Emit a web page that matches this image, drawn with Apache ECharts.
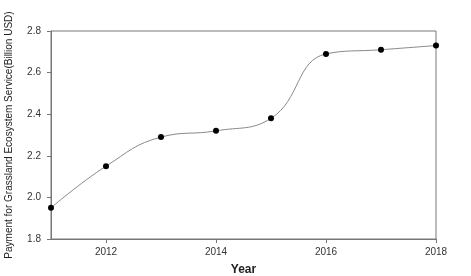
<!DOCTYPE html>
<html><head><meta charset="utf-8">
<script src="https://cdn.jsdelivr.net/npm/echarts@6/dist/echarts.min.js"></script>
<style>html,body{margin:0;padding:0;background:#fff}#c{width:471px;height:276px}</style>
</head><body><div id="c"></div>
<script>
const years = [2011, 2012, 2013, 2014, 2015, 2016, 2017, 2018];
const payment = [1.95, 2.15, 2.29, 2.32, 2.38, 2.69, 2.71, 2.73];
const xTicks = [2012, 2014, 2016, 2018];
const yTicks = [1.8, 2.0, 2.2, 2.4, 2.6, 2.8];
const yTitle = 'Payment for Grassland Ecosystem Service(Billion USD)';
const xTitle = 'Year';

const chart = echarts.init(document.getElementById('c'));
chart.setOption({
  animation: false,
  grid: {left: 51, right: 35, top: 31, bottom: 37, outerBoundsMode: 'none', containLabel: false, show: true, borderColor: '#777', borderWidth: 1},
  xAxis: {
    type: 'value', min: 2011, max: 2018,
    name: xTitle, nameLocation: 'middle', nameGap: 25,
    nameTextStyle: {fontFamily: 'Liberation Sans', fontWeight: 'bold', fontSize: 12, color: '#222'},
    axisLine: {show: true, lineStyle: {color: '#777'}},
    axisTick: {show: true, length: 4, customValues: xTicks, lineStyle: {color: '#777'}},
    axisLabel: {customValues: xTicks, formatter: v => String(v), fontFamily: 'Liberation Sans', fontSize: 10, color: '#333', margin: 8},
    splitLine: {show: false}
  },
  yAxis: {
    type: 'value', min: 1.8, max: 2.8,
    name: yTitle, nameLocation: 'middle', nameGap: 37, nameRotate: 90,
    nameTextStyle: {fontFamily: 'Liberation Sans', fontSize: 10, color: '#222'},
    axisLine: {show: true, lineStyle: {color: '#777'}},
    axisTick: {show: true, length: 4, customValues: yTicks, lineStyle: {color: '#777'}},
    axisLabel: {customValues: yTicks, formatter: v => v.toFixed(1), fontFamily: 'Liberation Sans', fontSize: 10, color: '#333', margin: 10},
    splitLine: {show: false}
  },
  series: [{
    type: 'line',
    data: years.map((y, i) => [y, payment[i]]),
    smooth: 0.45,
    symbol: 'circle', symbolSize: 6,
    itemStyle: {color: '#000'},
    lineStyle: {color: '#888', width: 1}
  }]
});
</script></body></html>
